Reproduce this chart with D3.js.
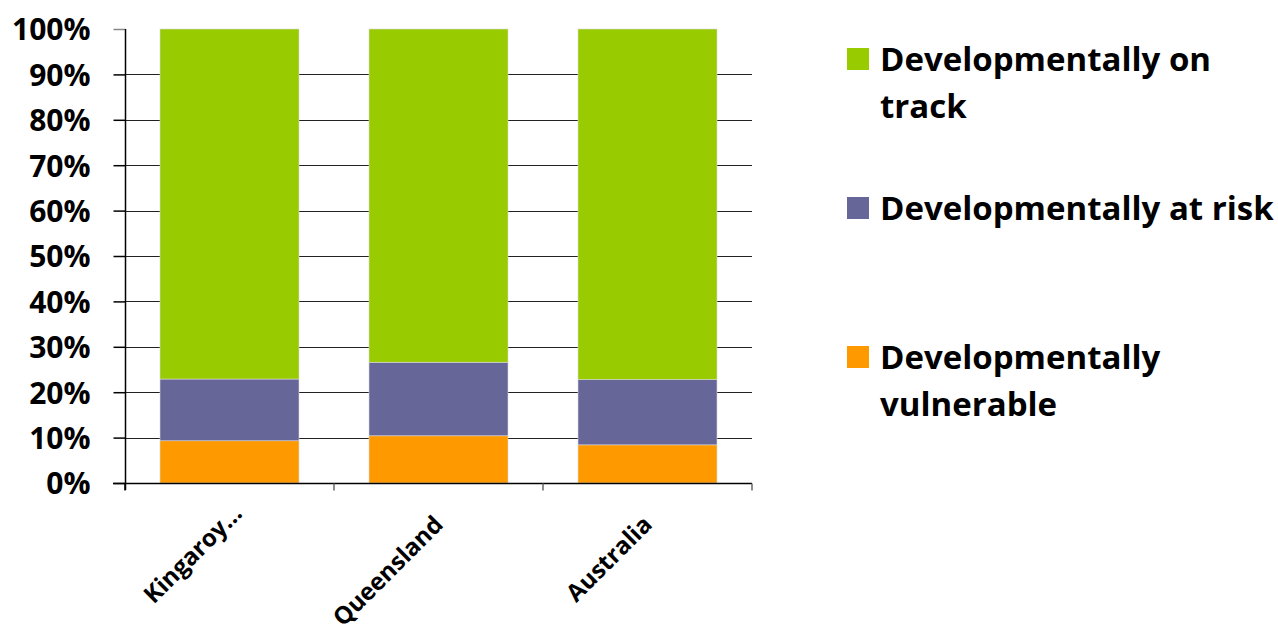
<!DOCTYPE html>
<html>
<head>
<meta charset="utf-8">
<script src="https://cdn.jsdelivr.net/npm/d3@7"></script>
<style>
  html, body { margin: 0; padding: 0; background: #fff; }
  svg { display: block; font-family: "Open Sans", Lato, sans-serif; font-weight: bold; }
</style>
</head>
<body>
<svg id="chart" width="1278" height="628"></svg>
<script>
const categories = ["Kingaroy…", "Queensland", "Australia"];
const seriesNames = ["Developmentally vulnerable", "Developmentally at risk", "Developmentally on track"];
const vulnerable = [9.3, 10.4, 8.4];
const atRisk = [13.6, 16.2, 14.4];
const onTrack = [77.1, 73.4, 77.2];
const yTicks = [0, 10, 20, 30, 40, 50, 60, 70, 80, 90, 100];
const colors = ["#FF9900", "#666699", "#99CC00"];
const legendLines = [
  ["Developmentally on", "track"],
  ["Developmentally at risk"],
  ["Developmentally", "vulnerable"]
];

(function () {
const svg = d3.select("#chart");
const pL = 125, pR = 752, pT = 29, pB = 483;

const x = d3.scaleBand().domain(categories).range([pL, pR]).paddingInner(0.335).paddingOuter(0.1675);
const y = d3.scaleLinear().domain([0, 100]).range([pB, pT]);

const rows = categories.map((c, i) => ({ cat: c, v0: vulnerable[i], v1: atRisk[i], v2: onTrack[i] }));
const layers = d3.stack().keys(["v0", "v1", "v2"])(rows);

// gridlines (10..90)
svg.append("g").selectAll("line")
  .data(yTicks.filter(t => t > 0 && t < 100))
  .join("line")
  .attr("x1", pL).attr("x2", pR)
  .attr("y1", d => Math.round(y(d)) + 0.5).attr("y2", d => Math.round(y(d)) + 0.5)
  .attr("stroke", "#222").attr("stroke-width", 1.2);

// bars
svg.append("g").selectAll("g")
  .data(layers)
  .join("g")
  .attr("fill", (d, i) => colors[i])
  .selectAll("rect")
  .data(d => d)
  .join("rect")
  .attr("x", d => x(d.data.cat))
  .attr("width", x.bandwidth())
  .attr("y", d => y(d[1]))
  .attr("height", d => y(d[0]) - y(d[1]))
  .attr("stroke", "#d8d8d8").attr("stroke-width", 0.6);

// y axis
const yAxis = d3.axisLeft(y).tickValues(yTicks).tickFormat(d => d + "%").tickSize(12).tickPadding(23);
const gy = svg.append("g").attr("transform", `translate(${pL + 0.5},0)`).call(yAxis);
gy.select(".domain").remove();
gy.selectAll(".tick line").attr("stroke", d => d === 100 ? "#888" : "#000").attr("stroke-width", 1.5);
gy.selectAll(".tick text").attr("font-size", 30).attr("font-weight", "bold").attr("fill", "#000")
  .attr("font-family", "'Open Sans', sans-serif").attr("dy", "0.36em");
svg.append("line").attr("x1", pL + 0.5).attr("x2", pL + 0.5).attr("y1", pT).attr("y2", pB + 7)
  .attr("stroke", "#000").attr("stroke-width", 1.5);

// x axis
const gx = svg.append("g").attr("transform", `translate(0,${pB + 0.5})`);
gx.append("line").attr("x1", pL - 12).attr("x2", pR).attr("y1", 0).attr("y2", 0)
  .attr("stroke", "#000").attr("stroke-width", 1.5);
const step = x.step();
gx.selectAll("line.tk")
  .data(d3.range(categories.length + 1))
  .join("line").attr("class", "tk")
  .attr("x1", i => pL + i * step).attr("x2", i => pL + i * step)
  .attr("y1", 0).attr("y2", 7)
  .attr("stroke", i => i === 0 ? "#000" : "#666").attr("stroke-width", 1.5);

svg.append("g").selectAll("text")
  .data(categories)
  .join("text")
  .attr("transform", (d, i) => `translate(${x(d) + x.bandwidth() / 2 + (i === 0 ? 14 : 6)},${pB + (i === 0 ? 32 : 43)}) rotate(-45)`)
  .attr("text-anchor", "end")
  .attr("font-size", 24)
  .attr("fill", "#000")
  .text(d => d);

// legend
const legendMid = [59, 208, 357];
const lg = svg.append("g");
legendLines.forEach((lines, i) => {
  const ci = colors.length - 1 - i;
  const g = lg.append("g");
  g.append("rect").attr("x", 847).attr("y", legendMid[i] - 11).attr("width", 22).attr("height", 22).attr("fill", colors[ci]);
  lines.forEach((line, j) => {
    g.append("text").attr("x", 880).attr("y", legendMid[i] + 12 + j * 47)
      .attr("font-size", 33).attr("fill", "#000").text(line);
  });
});
})();
</script>
</body>
</html>
